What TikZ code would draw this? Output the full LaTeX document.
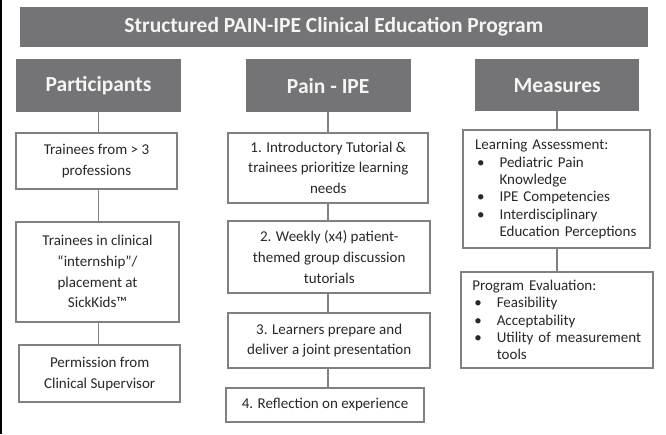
\documentclass[tikz,border=0pt]{standalone}
\usepackage{fontspec}
\setmainfont{Carlito}
\definecolor{hdr}{RGB}{116,116,118}
\definecolor{bd}{RGB}{128,128,128}
\definecolor{txt}{RGB}{40,40,40}
\newcommand{\bul}{\hspace*{2pt}\makebox[22.5pt][l]{\textbullet}}
\newcommand{\ind}{\hspace*{24.5pt}}
\begin{document}
\begin{tikzpicture}[x=1pt,y=-1pt,
  hdrbox/.style={fill=hdr, draw=none, text=white!96!black, inner sep=0pt,
    font=\bfseries\fontsize{21.5}{24}\selectfont},
  boxst/.style={draw=bd, line width=1.9pt, fill=white, text=txt, inner sep=0pt,
    align=center, font=\fontsize{15}{20.7}\selectfont},
  measbox/.style={draw=bd, line width=1.9pt, fill=white, text=txt, inner sep=0pt,
    align=left, font=\fontsize{15}{17.4}\selectfont},
  conn/.style={draw=bd, line width=1.7pt}]
\useasboundingbox (0,0) rectangle (666,434);
\fill[white] (0,0) rectangle (666,434);
\fill[black] (0,0) rectangle (1.6,434);

% title
\node[hdrbox, minimum width=627.7pt, minimum height=40pt] (title) at (333.85,26.7)
  {Structured PAIN-IPE Clinical Education Program};

% headers
\node[hdrbox, minimum width=165pt, minimum height=52.7pt] (hP) at (98.5,85.65) {Participants};
\node[hdrbox, minimum width=165pt, minimum height=52.7pt] (hI) at (328.2,85.65) {Pain - IPE};
\node[hdrbox, minimum width=164.3pt, minimum height=51.7pt] (hM) at (557.2,85.15) {Measures};

% participants column
\node[boxst, minimum width=161.6pt, minimum height=56.6pt] (p1) at (96.5,161)
  {Trainees from > 3\\professions};
\node[boxst, minimum width=163.6pt, minimum height=100pt] (p2) at (97.5,271.7)
  {Trainees in clinical\\“internship”/\\placement at\\SickKids™};
\node[boxst, minimum width=160.7pt, minimum height=57.3pt] (p3) at (99.7,373.7)
  {Permission from\\Clinical Supervisor};

% pain-ipe column
\node[boxst, minimum width=200pt, minimum height=70pt] (i1) at (328.3,167.7)
  {1. Introductory Tutorial \&\\trainees prioritize learning\\needs};
\node[boxst, minimum width=201.7pt, minimum height=71.7pt] (i2) at (329.2,256.9)
  {2. Weekly (x4) patient-\\themed group discussion\\tutorials};
\node[boxst, minimum width=201.7pt, minimum height=54.4pt] (i3) at (329.2,340.5)
  {3. Learners prepare and\\deliver a joint presentation};
\node[boxst, minimum width=198pt, minimum height=34.6pt] (i4) at (325,405)
  {4. Reflection on experience};

% measures column
\node[measbox, minimum width=186.7pt, minimum height=118.3pt, text width=163.3pt] (m1) at (556.7,189.2)
  {Learning Assessment:\\
   \bul Pediatric Pain\\
   \ind Knowledge\\
   \bul IPE Competencies\\
   \bul Interdisciplinary\\
   \ind Education Perceptions};
\node[measbox, minimum width=192.6pt, minimum height=96.6pt, text width=169.4pt] (m2) at (557,320)
  {Program Evaluation:\\
   \bul Feasibility\\
   \bul Acceptability\\
   \bul Utility of measurement\\
   \ind tools};

% connectors
\draw[conn] (hP.south) -- (hP.south |- p1.north);
\draw[conn] (hP.south |- p1.south) -- (hP.south |- p2.north);
\draw[conn] (hP.south |- p2.south) -- (hP.south |- p3.north);
\draw[conn] (hI.south) -- (hI.south |- i1.north);
\draw[conn] (hI.south |- i1.south) -- (hI.south |- i2.north);
\draw[conn] (hI.south |- i2.south) -- (hI.south |- i3.north);
\draw[conn] (hI.south |- i3.south) -- (hI.south |- i4.north);
\draw[conn] (hM.south) -- (hM.south |- m1.north);
\draw[conn] (hM.south |- m1.south) -- (hM.south |- m2.north);
\end{tikzpicture}
\end{document}
